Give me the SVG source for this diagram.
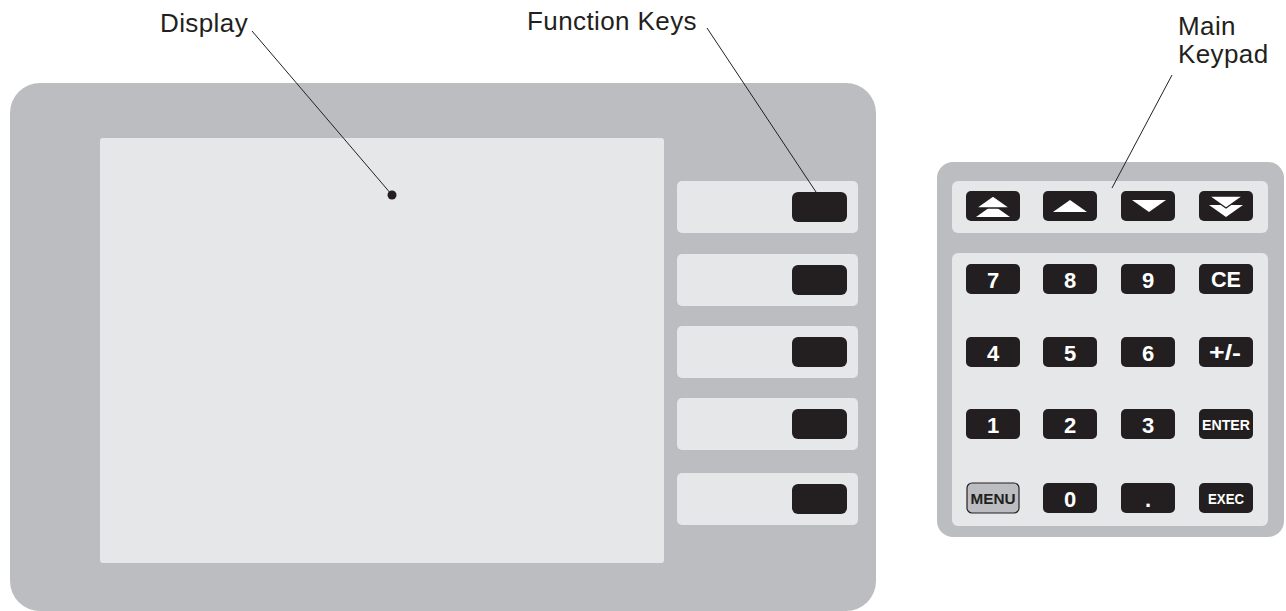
<svg xmlns="http://www.w3.org/2000/svg" width="1286" height="611" viewBox="0 0 1286 611">
  <defs>
    <style>
      .housing { fill: #bcbdc0; }
      .face { fill: #e6e7e8; }
      .key { fill: #231f20; }
      .menu-key { fill: #bcbdc0; stroke: #231f20; stroke-width: 1.2; }
      .label { font-family: "Liberation Sans", Arial, sans-serif; font-size: 26px; letter-spacing: 0.4px; fill: #231f20; }
      .keytxt { font-family: "Liberation Sans", Arial, sans-serif; font-weight: bold; fill: #ffffff; text-anchor: middle; }
      .big { font-size: 22px; }
      .small { font-size: 15.5px; }
      .leader { stroke: #231f20; stroke-width: 1; fill: none; }
      .glyph { fill: #ffffff; }
    </style>
    <rect id="fkey" width="55" height="30" rx="6" class="key"/>
    <rect id="kkey" width="54" height="30" rx="5" class="key"/>
  </defs>

  <!-- Main unit -->
  <g id="main-unit">
    <rect x="10" y="83" width="866" height="528" rx="30" class="housing"/>
  </g>

  <!-- Display area -->
  <g id="display">
    <rect x="100" y="138" width="564" height="425" rx="3" class="face"/>
  </g>

  <!-- Function key strips -->
  <g id="function-keys">
    <g id="fkey-1">
      <rect x="677" y="181" width="181" height="52" rx="5" class="face"/>
      <use href="#fkey" x="792" y="192"/>
    </g>
    <g id="fkey-2">
      <rect x="677" y="254" width="181" height="52" rx="5" class="face"/>
      <use href="#fkey" x="792" y="265"/>
    </g>
    <g id="fkey-3">
      <rect x="677" y="326" width="181" height="52" rx="5" class="face"/>
      <use href="#fkey" x="792" y="337"/>
    </g>
    <g id="fkey-4">
      <rect x="677" y="398" width="181" height="52" rx="5" class="face"/>
      <use href="#fkey" x="792" y="409"/>
    </g>
    <g id="fkey-5">
      <rect x="677" y="473" width="181" height="52" rx="5" class="face"/>
      <use href="#fkey" x="792" y="484"/>
    </g>
  </g>

  <!-- Main keypad -->
  <g id="keypad">
    <rect x="937" y="162" width="347" height="375" rx="16" class="housing"/>
    <rect x="952" y="181" width="316" height="52" rx="6" class="face"/>
    <rect x="952" y="253" width="316" height="273" rx="6" class="face"/>

    <!-- scroll keys -->
    <g id="key-pageup">
      <use href="#kkey" x="966" y="191"/>
      <polygon points="976,217 993,205 1010,217" class="glyph"/>
      <polygon points="976,208 993,196 1010,208" class="glyph" stroke="#231f20" stroke-width="1.4"/>
    </g>
    <g id="key-up">
      <use href="#kkey" x="1043" y="191"/>
      <polygon points="1053,212 1070,200 1087,212" class="glyph"/>
    </g>
    <g id="key-down">
      <use href="#kkey" x="1121" y="191"/>
      <polygon points="1132,200 1166,200 1149,212" class="glyph"/>
    </g>
    <g id="key-pagedown">
      <use href="#kkey" x="1199" y="191"/>
      <polygon points="1209,205 1243,205 1226,217" class="glyph"/>
      <polygon points="1209,196 1243,196 1226,208" class="glyph" stroke="#231f20" stroke-width="1.4"/>
    </g>

    <!-- row 1 -->
    <g id="key-7"><use href="#kkey" x="966" y="264"/><text x="993" y="288" class="keytxt big">7</text></g>
    <g id="key-8"><use href="#kkey" x="1043" y="264"/><text x="1070" y="288" class="keytxt big">8</text></g>
    <g id="key-9"><use href="#kkey" x="1121" y="264"/><text x="1148" y="288" class="keytxt big">9</text></g>
    <g id="key-ce"><use href="#kkey" x="1199" y="264"/><text x="1226" y="287" class="keytxt big" textLength="30" lengthAdjust="spacingAndGlyphs">CE</text></g>

    <!-- row 2 -->
    <g id="key-4"><use href="#kkey" x="966" y="337"/><text x="993" y="361" class="keytxt big">4</text></g>
    <g id="key-5"><use href="#kkey" x="1043" y="337"/><text x="1070" y="361" class="keytxt big">5</text></g>
    <g id="key-6"><use href="#kkey" x="1121" y="337"/><text x="1148" y="361" class="keytxt big">6</text></g>
    <g id="key-sign"><use href="#kkey" x="1199" y="337"/><text x="1225" y="360" class="keytxt big" textLength="32" lengthAdjust="spacingAndGlyphs">+/-</text></g>

    <!-- row 3 -->
    <g id="key-1"><use href="#kkey" x="966" y="409"/><text x="993" y="433" class="keytxt big">1</text></g>
    <g id="key-2"><use href="#kkey" x="1043" y="409"/><text x="1070" y="433" class="keytxt big">2</text></g>
    <g id="key-3"><use href="#kkey" x="1121" y="409"/><text x="1148" y="433" class="keytxt big">3</text></g>
    <g id="key-enter"><use href="#kkey" x="1199" y="409"/><text x="1226" y="429.5" class="keytxt small" textLength="48" lengthAdjust="spacingAndGlyphs">ENTER</text></g>

    <!-- row 4 -->
    <g id="key-menu">
      <rect x="967" y="483" width="52" height="30" rx="5" class="menu-key"/>
      <text x="993" y="503.5" class="keytxt small" style="fill:#231f20" textLength="45" lengthAdjust="spacingAndGlyphs">MENU</text>
    </g>
    <g id="key-0"><use href="#kkey" x="1043" y="483"/><text x="1070" y="507" class="keytxt big">0</text></g>
    <g id="key-dot"><use href="#kkey" x="1121" y="483"/><text x="1148" y="507" class="keytxt big">.</text></g>
    <g id="key-exec"><use href="#kkey" x="1199" y="483"/><text x="1226" y="503.5" class="keytxt small" textLength="36" lengthAdjust="spacingAndGlyphs">EXEC</text></g>
  </g>

  <!-- Callout labels -->
  <g id="labels">
    <text x="160" y="32" class="label">Display</text>
    <text x="527" y="30" class="label">Function Keys</text>
    <text x="1178" y="35" class="label">Main</text>
    <text x="1178" y="63" class="label">Keypad</text>
  </g>

  <!-- Leader lines -->
  <g id="connectors">
    <line x1="252" y1="31" x2="392" y2="195" class="leader"/>
    <circle cx="392" cy="195" r="4.5" fill="#231f20"/>
    <line x1="707" y1="28" x2="822" y2="201" class="leader"/>
    <line x1="1172" y1="75" x2="1112" y2="188" class="leader"/>
  </g>
</svg>
